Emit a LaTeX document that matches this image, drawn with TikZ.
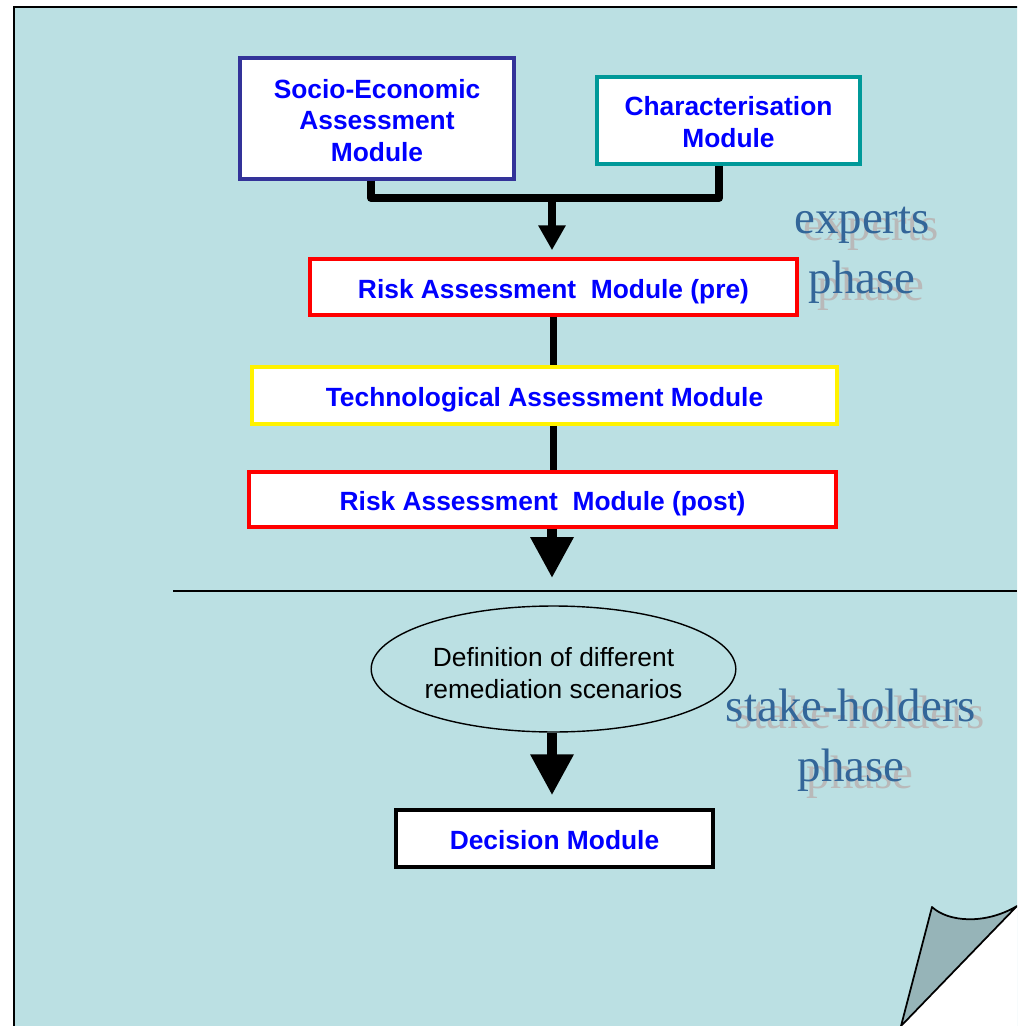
\documentclass[tikz,border=0pt]{standalone}
\usepackage{fontspec}
\setmainfont{Liberation Sans}
\newfontfamily\phasefont{Liberation Serif}
\usetikzlibrary{positioning,arrows.meta,shapes.geometric}

\definecolor{bgcol}{HTML}{BBE0E3}
\definecolor{curlcol}{HTML}{96B4B8}
\definecolor{sociocol}{HTML}{333399}
\definecolor{tealcol}{HTML}{009999}
\definecolor{txtblue}{HTML}{0000FF}
\definecolor{phasecol}{HTML}{336699}

\newcommand{\toplift}[1]{\rule{0pt}{#1}}

\begin{document}
\begin{tikzpicture}[
        x=0.02cm, y=-0.02cm,
        module/.style={rectangle, draw, fill=white, line width=2pt, inner sep=0pt,
                text=txtblue, align=center, font=\bfseries\fontsize{15}{18}\selectfont},
        oneline/.style={text height=16pt, text depth=3pt},
        scenario/.style={ellipse, draw, line width=0.8pt, inner sep=0pt,
                minimum width=7.18cm, minimum height=2.52cm, align=center,
                font=\fontsize{15}{18}\selectfont},
        link/.style={line width=4.5pt, line join=round},
        smallarrow/.style={line width=4.5pt, -{Triangle[width=0.52cm, length=0.5cm]}},
        bigarrow/.style={line width=5.5pt, -{Triangle[width=0.82cm, length=0.82cm]}},
        phase/.style={align=center, font=\phasefont\fontsize{26.7}{34}\selectfont},
    ]

    \useasboundingbox (0,0) rectangle (1017,1026);
    \clip (0,0) rectangle (1017,1026);

    % Sheet
    \filldraw[fill=bgcol, draw=black, line width=1.2pt] (14,7) rectangle (1040,1050);

    % Page curl
    \fill[white] (901,1026) -- (1017,906) -- (1017,1026) -- cycle;
    \filldraw[fill=curlcol, draw=black, line width=1pt, line join=round]
        (901,1026) -- (932,907) .. controls (948,922) and (985,925) .. (1017,906) -- cycle;

    % Experts phase (top)
    \node[module, draw=sociocol, minimum width=5.48cm, minimum height=2.42cm] (socio) at (377,118.5)
        {\toplift{13pt}Socio-Economic\\Assessment\\Module};
    \node[module, draw=tealcol, minimum width=5.26cm, minimum height=1.74cm] (charac) at (728.5,120.5)
        {\toplift{13pt}Characterisation\\Module};
    \node[module, oneline, draw=red, minimum width=9.74cm, minimum height=1.12cm] (pre) at (553.5,287)
        {Risk Assessment\ \ Module (pre)};
    \node[module, oneline, draw=yellow, minimum width=11.7cm, minimum height=1.14cm] (tech) at (544.5,395.5)
        {Technological Assessment Module};
    \node[module, oneline, draw=red, minimum width=11.74cm, minimum height=1.1cm] (post) at (542.5,499.5)
        {Risk Assessment\ \ Module (post)};

    % Connections
    \coordinate (join) at (552,198);
    \draw[link] ([xshift=-0.12cm]socio.south) |- (join) -| ([xshift=-0.19cm]charac.south);
    \draw[smallarrow, shorten >=0.14cm] (join) -- (join |- pre.north);
    \draw[link] (pre.south) -- (pre.south |- tech.north);
    \draw[link] (pre.south |- tech.south) -- (pre.south |- post.north);
    \coordinate (tip) at (552,578);
    \draw[bigarrow] (tip |- post.south) -- (tip);

    % Divider
    \coordinate (divl) at (173,591);
    \coordinate (divr) at (1017,591);
    \draw[line width=1.1pt] (divl) -- (divr);

    % Stake-holders phase (bottom)
    \node[scenario] (scen) at (553.5,669) {\toplift{15.5pt}Definition of different\\remediation scenarios};
    \node[module, oneline, draw=black, minimum width=6.34cm, minimum height=1.14cm] (decision) at (554.5,838.5)
        {Decision Module};
    \draw[bigarrow, shorten >=0.26cm] ([xshift=-0.03cm]scen.south) -- ([xshift=-0.05cm]decision.north);

    % Phase labels
    \node[phase, text=gray!55] (expshadow) at (871,262) {experts\\phase};
    \node[phase, text=phasecol] (explabel) at (862,255) {experts\\phase};
    \node[phase, text=gray!55] (stkshadow) at (860,747) {stake-holders\\phase};
    \node[phase, text=phasecol] (stklabel) at (851,740) {stake-holders\\phase};

\end{tikzpicture}
\end{document}
